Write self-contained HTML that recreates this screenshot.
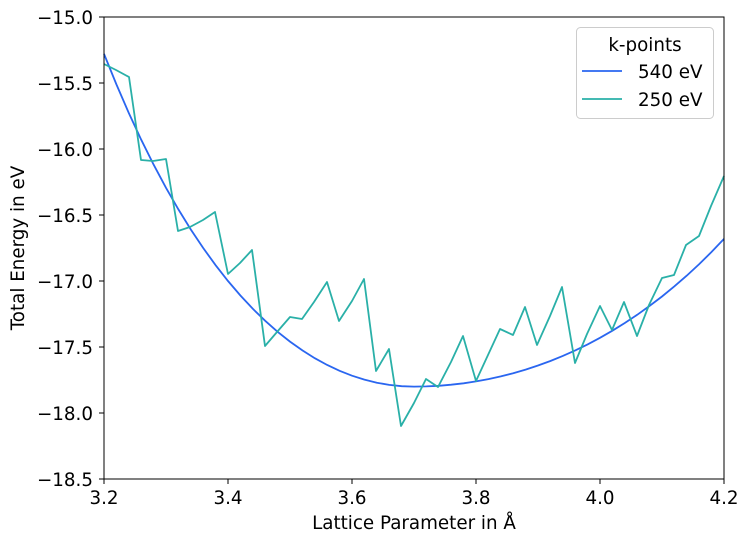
<!DOCTYPE html>
<html><head><style>body{margin:0;background:#fff}svg{display:block;font-family:"DejaVu Sans","Liberation Sans",sans-serif}</style></head>
<body>
<svg id="s" width="749" height="542" viewBox="0 0 749 542">
<rect width="749" height="542" fill="#fff"/>
<g id="blue"></g>
<polyline fill="none" stroke="#2ab0a8" stroke-width="1.8" stroke-linejoin="round" points="104,64 116,70 129,77 141,160 153,161 166,159 178,231 190,227 203,220 215,212 228,274 240,263 252,250 265,346 277,332 290,317 302,319 314,302 327,282 339,321 352,301 364,279 376,371 389,349 401,426 414,403 426,379 438,387 451,362 463,336 476,381 488,355 500,329 513,335 525,307 537,345 550,316 562,287 575,363 587,334 600,306 612,330 624,302 637,336 649,305 662,278 674,275 686,245 699,236 711,206 724,176"/>
<rect x="104" y="17" width="620" height="462" fill="none" stroke="#000" stroke-width="1"/>
<g id="ticks" font-size="18.3" fill="#000"></g>
<text x="414" y="529" font-size="18.3" text-anchor="middle">Lattice Parameter in Å</text>
<text transform="translate(24,248) rotate(-90)" font-size="18.3" text-anchor="middle">Total Energy in eV</text>
<rect x="576.5" y="27.5" width="137" height="91" rx="4" fill="#fff" fill-opacity="0.8" stroke="#ccc"/>
<text x="645" y="51" font-size="18.3" text-anchor="middle">k-points</text>
<line x1="582" y1="71" x2="622" y2="71" stroke="#2a66f0" stroke-width="1.8"/>
<text x="638" y="78" font-size="18.3">540 eV</text>
<line x1="582" y1="99" x2="622" y2="99" stroke="#2ab0a8" stroke-width="1.8"/>
<text x="638" y="106" font-size="18.3">250 eV</text>
</svg>
<script>
var ns="http://www.w3.org/2000/svg",pts=[];
function X(v){return 104+(v-3.2)*620}function Y(v){return 17+(-15-v)*132}
for(var i=0;i<=50;i++){var x=3.2+i*0.02,d=x-3.7,e;
if(d>0)e=-17.8+3.9*d*d+2.3*d*d*d*d;else e=-17.8+8.22*d*d+7.45*d*d*d*d;
pts.push(X(x).toFixed(1)+","+Y(e).toFixed(1));}
var p=document.createElementNS(ns,"polyline");p.setAttribute("points",pts.join(" "));p.setAttribute("fill","none");p.setAttribute("stroke","#2a66f0");p.setAttribute("stroke-width","1.8");document.getElementById("blue").appendChild(p);
var g=document.getElementById("ticks");
function add(tag,a,t){var e=document.createElementNS(ns,tag);for(var k in a)e.setAttribute(k,a[k]);if(t)e.textContent=t;g.appendChild(e);}
["3.2","3.4","3.6","3.8","4.0","4.2"].forEach(function(s){var x=X(+s);add("line",{x1:x,x2:x,y1:479,y2:484,stroke:"#000"});add("text",{x:x,y:504,"text-anchor":"middle"},s);});
for(var v=-15;v>=-18.5;v-=0.5){var y=Y(v);add("line",{x1:99,x2:104,y1:y,y2:y,stroke:"#000"});add("text",{x:93,y:y+7,"text-anchor":"end"},"\u2212"+(-v).toFixed(1));}
</script>
</body></html>
